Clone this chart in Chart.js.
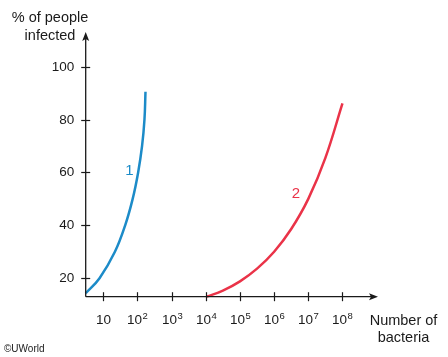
<!DOCTYPE html>
<html>
<head>
<meta charset="utf-8">
<script src="https://cdn.jsdelivr.net/npm/chart.js@4/dist/chart.umd.min.js"></script>
<style>
html,body{margin:0;padding:0;background:#fff;}
canvas{display:block;}
</style>
</head>
<body>
<canvas id="c" width="448" height="357"></canvas>
<script>
// x values are log10(number of bacteria)
const curve1X = [0.485, 0.89, 1.34, 1.64, 1.86, 2.02, 2.135, 2.205, 2.235];
const curve1Y = [14.3, 20.0, 30.0, 40.0, 50.0, 60.0, 70.0, 80.0, 90.5];
const curve2X = [4.02, 4.5, 5.0, 5.5, 6.0, 6.5, 7.0, 7.5, 8.0];
const curve2Y = [13.0, 15.3, 18.8, 23.6, 30.0, 38.6, 50.0, 65.5, 86.1];
const curveNames = ['1', '2'];
const xTickValues = [1, 2, 3, 4, 5, 6, 7, 8];
const xTickBase = '10';
const xTickExponents = ['', '2', '3', '4', '5', '6', '7', '8'];
const yTickValues = [20, 40, 60, 80, 100];
const yTickLabels = ['20', '40', '60', '80', '100'];
const yTitle = ['% of people', 'infected'];
const xTitle = ['Number of', 'bacteria'];
const credit = '\u00A9UWorld';

const BLUE = '#1c8bc8';
const RED = '#ea3348';
const INK = '#1a1a1a';
const FONT = '"Liberation Sans", Arial, sans-serif';

function pts(xs, ys){ return xs.map((x,i)=>({x:x, y:ys[i]})); }

const decor = {
  id: 'decor',
  afterDraw(chart){
    const ctx = chart.ctx;
    const xs = chart.scales.x, ys = chart.scales.y;
    const x0 = xs.getPixelForValue(xs.min);
    const y0 = ys.getPixelForValue(ys.min);
    const xEnd = xs.getPixelForValue(xs.max);
    const yTop = ys.getPixelForValue(ys.max);
    ctx.save();
    ctx.strokeStyle = INK; ctx.fillStyle = INK; ctx.lineWidth = 1.3;
    ctx.beginPath();
    ctx.moveTo(x0, y0); ctx.lineTo(x0, yTop + 6);
    ctx.moveTo(x0, y0); ctx.lineTo(xEnd - 6, y0);
    ctx.stroke();
    ctx.beginPath();
    ctx.moveTo(x0, yTop); ctx.lineTo(x0 - 3.5, yTop + 9); ctx.lineTo(x0, yTop + 7); ctx.lineTo(x0 + 3.5, yTop + 9); ctx.closePath(); ctx.fill();
    ctx.beginPath();
    ctx.moveTo(xEnd, y0); ctx.lineTo(xEnd - 9, y0 - 3.5); ctx.lineTo(xEnd - 7, y0); ctx.lineTo(xEnd - 9, y0 + 3.5); ctx.closePath(); ctx.fill();
    ctx.lineWidth = 1.2;
    ctx.font = '13.5px ' + FONT;
    ctx.textAlign = 'right'; ctx.textBaseline = 'middle';
    yTickValues.forEach((v,i)=>{
      const py = Math.round(ys.getPixelForValue(v)) + 0.5;
      ctx.beginPath(); ctx.moveTo(x0 - 4.5, py); ctx.lineTo(x0 + 4.5, py); ctx.stroke();
      ctx.fillText(yTickLabels[i], x0 - 11.5, py);
    });
    xTickValues.forEach((v,i)=>{
      const px = Math.round(xs.getPixelForValue(v)) + 0.5;
      ctx.beginPath(); ctx.moveTo(px, y0 - 4.5); ctx.lineTo(px, y0 + 4.5); ctx.stroke();
      ctx.font = '13.5px ' + FONT;
      const wb = ctx.measureText(xTickBase).width;
      ctx.font = '9.5px ' + FONT;
      const we = xTickExponents[i] ? ctx.measureText(xTickExponents[i]).width + 0.5 : 0;
      const start = px - (wb + we) / 2;
      ctx.textAlign = 'left'; ctx.textBaseline = 'alphabetic';
      ctx.font = '13.5px ' + FONT;
      ctx.fillText(xTickBase, start, 323.5);
      if (xTickExponents[i]) {
        ctx.font = '9.5px ' + FONT;
        ctx.fillText(xTickExponents[i], start + wb + 0.5, 318.5);
      }
    });
    ctx.font = '14.5px ' + FONT;
    ctx.textAlign = 'center'; ctx.textBaseline = 'alphabetic';
    ctx.fillText(yTitle[0], 50, 21.5);
    ctx.fillText(yTitle[1], 50, 39.5);
    ctx.fillText(xTitle[0], 403.5, 324.5);
    ctx.fillText(xTitle[1], 403.5, 342);
    ctx.font = '15px ' + FONT;
    ctx.textBaseline = 'middle';
    ctx.fillStyle = BLUE; ctx.fillText(curveNames[0], 129.5, 171);
    ctx.fillStyle = RED; ctx.fillText(curveNames[1], 296, 194);
    ctx.fillStyle = INK;
    ctx.font = '10px ' + FONT;
    ctx.textAlign = 'left'; ctx.textBaseline = 'alphabetic';
    ctx.fillText(credit, 4, 352);
    ctx.restore();
  }
};

new Chart(document.getElementById('c'), {
  type: 'line',
  data: {
    datasets: [
      { label: curveNames[0], data: pts(curve1X, curve1Y), borderColor: BLUE, borderWidth: 2.5, pointRadius: 0, tension: 0.4, fill: false, clip: false },
      { label: curveNames[1], data: pts(curve2X, curve2Y), borderColor: RED, borderWidth: 2.5, pointRadius: 0, tension: 0.4, fill: false, clip: false }
    ]
  },
  options: {
    responsive: false,
    animation: false,
    devicePixelRatio: 1,
    layout: { padding: { left: 85.7, right: 70, top: 32, bottom: 60.3 } },
    plugins: { legend: { display: false }, tooltip: { enabled: false } },
    scales: {
      x: { type: 'linear', min: 0.485, max: 9.04, display: false },
      y: { type: 'linear', min: 13, max: 113.1, display: false }
    }
  },
  plugins: [decor]
});
</script>
</body>
</html>
